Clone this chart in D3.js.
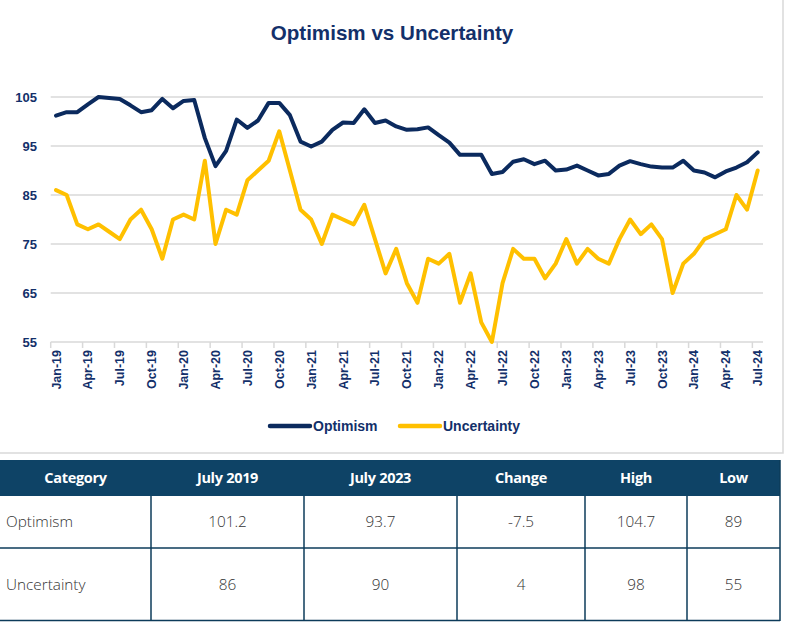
<!DOCTYPE html>
<html><head><meta charset="utf-8">
<script src="https://cdn.jsdelivr.net/npm/d3@7"></script>
<style>
html,body{margin:0;padding:0;background:#fff;}
svg{display:block;}
</style></head>
<body>
<script>
const months = ["Jan-19","Feb-19","Mar-19","Apr-19","May-19","Jun-19","Jul-19","Aug-19","Sep-19","Oct-19","Nov-19","Dec-19",
"Jan-20","Feb-20","Mar-20","Apr-20","May-20","Jun-20","Jul-20","Aug-20","Sep-20","Oct-20","Nov-20","Dec-20",
"Jan-21","Feb-21","Mar-21","Apr-21","May-21","Jun-21","Jul-21","Aug-21","Sep-21","Oct-21","Nov-21","Dec-21",
"Jan-22","Feb-22","Mar-22","Apr-22","May-22","Jun-22","Jul-22","Aug-22","Sep-22","Oct-22","Nov-22","Dec-22",
"Jan-23","Feb-23","Mar-23","Apr-23","May-23","Jun-23","Jul-23","Aug-23","Sep-23","Oct-23","Nov-23","Dec-23",
"Jan-24","Feb-24","Mar-24","Apr-24","May-24","Jun-24","Jul-24"];
const optimism = [101.2,101.9,101.9,103.5,105.0,104.8,104.6,103.3,101.9,102.3,104.6,102.7,
104.2,104.4,96.6,90.9,94.0,100.4,98.7,100.2,103.8,103.8,101.3,95.9,
94.9,95.9,98.3,99.8,99.7,102.5,99.7,100.2,99.0,98.3,98.4,98.8,
97.2,95.7,93.2,93.2,93.2,89.3,89.7,91.8,92.3,91.3,92.0,90.0,
90.2,91.0,90.0,89.0,89.3,91.0,91.9,91.3,90.8,90.6,90.6,92.0,
90.0,89.6,88.6,89.8,90.6,91.7,93.7];
const uncertainty = [86,85,79,78,79,77.5,76,80,82,78,72,80,
81,80,92,75,82,81,88,90,92,98,90,82,
80,75,81,80,79,83,76,69,74,67,63,72,
71,73,63,69,59,55,67,74,72,72,68,71,
76,71,74,72,71,76,80,77,79,76,65,71,
73,76,77,78,85,82,90];
const yTicks = [55,65,75,85,95,105];
const seriesNames = ["Optimism","Uncertainty"];
const tableHeaders = ["Category","July 2019","July 2023","Change","High","Low"];
const tableRows = [
  ["Optimism","101.2","93.7","-7.5","104.7","89"],
  ["Uncertainty","86","90","4","98","55"]
];

const W = 786, H = 623;
const NAVY = "#0b2a5e", GOLD = "#ffc000", TXT = "#13306a";
const svg = d3.select("body").append("svg").attr("width", W).attr("height", H);

// chart frame
svg.append("rect").attr("x",-2).attr("y",-2).attr("width",785).attr("height",455)
  .attr("fill","#fff").attr("stroke","#d9d9d9").attr("stroke-width",1.5);

svg.append("text").attr("x",392).attr("y",40).attr("text-anchor","middle")
  .attr("font-family","Liberation Sans, Arial, sans-serif").attr("font-weight","bold")
  .attr("font-size",20.6).attr("fill",TXT).text("Optimism vs Uncertainty");

const x = d3.scaleBand().domain(months).range([50.7, 763]).padding(0);
const y = d3.scaleLinear().domain([55,105]).range([342,97]);
const cx = m => x(m) + x.bandwidth()/2;

// gridlines
svg.append("g").selectAll("line").data(yTicks.filter(t=>t>55)).join("line")
  .attr("x1",50.7).attr("x2",763).attr("y1",d=>y(d)).attr("y2",d=>y(d))
  .attr("stroke","#d9d9d9").attr("stroke-width",1.5);
// y labels
svg.append("g").selectAll("text").data(yTicks).join("text")
  .attr("x",37).attr("y",d=>y(d)+5).attr("text-anchor","end")
  .attr("font-family","Liberation Sans, Arial, sans-serif").attr("font-weight","bold")
  .attr("font-size",13).attr("fill",TXT).text(d=>d);

// x axis
svg.append("line").attr("x1",50.7).attr("x2",763).attr("y1",y(55)).attr("y2",y(55))
  .attr("stroke","#d9d9d9").attr("stroke-width",1.5);
const tickMonths = months.filter((m,i)=>i%3===0);
svg.append("g").selectAll("line").data(tickMonths).join("line")
  .attr("x1",d=>x(d)).attr("x2",d=>x(d)).attr("y1",y(55)).attr("y2",y(55)+6)
  .attr("stroke","#d9d9d9").attr("stroke-width",1.5);
svg.append("g").selectAll("text").data(tickMonths).join("text")
  .attr("transform",d=>`translate(${cx(d)+4.5},350) rotate(-90)`)
  .attr("text-anchor","end")
  .attr("font-family","Liberation Sans, Arial, sans-serif").attr("font-weight","bold")
  .attr("font-size",12.5).attr("fill",TXT).text(d=>d);

// lines
const line = d3.line().x((d,i)=>cx(months[i])).y(d=>y(d)).curve(d3.curveLinear);
svg.append("path").datum(uncertainty).attr("d",line).attr("fill","none")
  .attr("stroke",GOLD).attr("stroke-width",4).attr("stroke-linejoin","round").attr("stroke-linecap","round");
svg.append("path").datum(optimism).attr("d",line).attr("fill","none")
  .attr("stroke",NAVY).attr("stroke-width",4).attr("stroke-linejoin","round").attr("stroke-linecap","round");

// legend
const leg = [{n:seriesNames[0],c:NAVY,x:270},{n:seriesNames[1],c:GOLD,x:400}];
const lg = svg.append("g").selectAll("g").data(leg).join("g");
lg.append("line").attr("x1",d=>d.x).attr("x2",d=>d.x+40).attr("y1",426).attr("y2",426)
  .attr("stroke",d=>d.c).attr("stroke-width",4.5).attr("stroke-linecap","round");
lg.append("text").attr("x",d=>d.x+43).attr("y",431)
  .attr("font-family","Liberation Sans, Arial, sans-serif").attr("font-weight","bold")
  .attr("font-size",14).attr("fill",TXT).text(d=>d.n);

// table
const colEdges = [0,151,304,457,585,687,780];
const HEAD = "#0e4366", LINEC = "#0d3b5a";
const tTop = 460, hH = 36, rowB = [496,548,621];
svg.append("rect").attr("x",0).attr("y",tTop).attr("width",780).attr("height",hH).attr("fill",HEAD);
svg.append("g").selectAll("text").data(tableHeaders).join("text")
  .attr("x",(d,i)=>(colEdges[i]+colEdges[i+1])/2).attr("y",tTop+23).attr("text-anchor","middle")
  .attr("font-family","Open Sans, sans-serif").attr("font-weight",700)
  .attr("font-size",14.5).attr("fill","#fff").attr("letter-spacing",-0.3).text(d=>d);
// row lines
svg.append("g").selectAll("line").data([548,620.5]).join("line")
  .attr("x1",0).attr("x2",780).attr("y1",d=>d).attr("y2",d=>d)
  .attr("stroke",LINEC).attr("stroke-width",1.5);
svg.append("g").selectAll("line").data(colEdges.slice(1,6)).join("line")
  .attr("x1",d=>d).attr("x2",d=>d).attr("y1",496).attr("y2",621)
  .attr("stroke",LINEC).attr("stroke-width",1.5);
svg.append("line").attr("x1",780).attr("x2",780).attr("y1",460).attr("y2",621)
  .attr("stroke",LINEC).attr("stroke-width",1.5);
tableRows.forEach((row,r)=>{
  const yc = (rowB[r]+rowB[r+1])/2 + 5;
  svg.append("g").selectAll("text").data(row).join("text")
    .attr("x",(d,i)=> i===0 ? 6 : (colEdges[i]+colEdges[i+1])/2)
    .attr("y",yc).attr("text-anchor",(d,i)=> i===0?"start":"middle")
    .attr("font-family","Open Sans, sans-serif").attr("font-weight",300)
    .attr("font-size",15.3).attr("fill","#333").text(d=>d);
});
</script>
</body></html>
